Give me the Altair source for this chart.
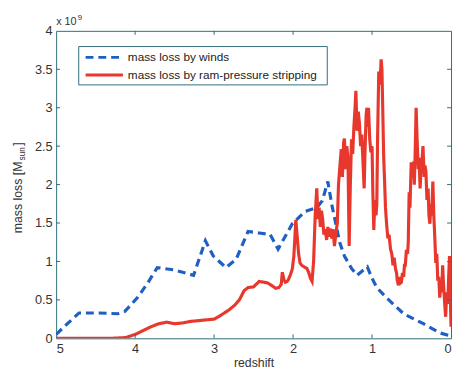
import altair as alt
import pandas as pd

# ---- data (mass loss in units of 1e9 M_sun) ----
series_names = ["mass loss by winds", "mass loss by ram-pressure stripping"]

wind_z = [5.0, 4.9, 4.71, 4.46, 4.22, 4.13, 3.97, 3.84, 3.72, 3.51, 3.26, 3.11, 3.01,
          2.85, 2.72, 2.57, 2.43, 2.29, 2.19, 2.01, 1.85, 1.70, 1.63, 1.56, 1.51, 1.41,
          1.35, 1.26, 1.19, 1.06, 1.0, 0.94, 0.82, 0.60, 0.35, 0.14, 0.0]
wind_v = [0.05, 0.15, 0.33, 0.33, 0.32, 0.35, 0.53, 0.72, 0.92, 0.89, 0.82, 1.27, 1.07,
          0.92, 1.03, 1.39, 1.37, 1.35, 1.16, 1.49, 1.65, 1.70, 1.79, 2.04, 1.74, 1.25,
          1.07, 0.91, 0.82, 0.93, 0.78, 0.66, 0.53, 0.32, 0.19, 0.07, 0.03]

ram_z = [5.0, 4.6, 4.3, 4.12, 4.0, 3.9, 3.8, 3.7, 3.6, 3.5, 3.4, 3.3, 3.2, 3.1, 3.0,
         2.93, 2.87, 2.81, 2.74, 2.68, 2.62, 2.57, 2.5, 2.43, 2.37, 2.32, 2.26, 2.22,
         2.18, 2.15, 2.136, 2.115, 2.098, 2.075, 2.061, 2.045, 2.036, 2.01, 1.99, 1.965,
         1.95, 1.93, 1.912, 1.89, 1.86, 1.825, 1.80, 1.78, 1.76, 1.74, 1.72, 1.70,
         1.685, 1.67, 1.655, 1.64, 1.625, 1.61, 1.595, 1.575, 1.56, 1.545, 1.53, 1.51,
         1.495, 1.476, 1.46, 1.44, 1.425, 1.41, 1.39, 1.375, 1.36, 1.35, 1.335, 1.32,
         1.305, 1.29, 1.275, 1.26, 1.245, 1.23, 1.215, 1.205, 1.19, 1.175, 1.16, 1.145,
         1.13, 1.115, 1.10, 1.09, 1.075, 1.065, 1.055, 1.045, 1.03, 1.015, 1.0, 0.99,
         0.978, 0.965, 0.95, 0.94, 0.93, 0.915, 0.90, 0.885, 0.875, 0.865, 0.853, 0.84,
         0.83, 0.816, 0.80, 0.785, 0.766, 0.75, 0.735, 0.72, 0.704, 0.69, 0.68, 0.666,
         0.65, 0.64, 0.629, 0.615, 0.60, 0.59, 0.579, 0.565, 0.55, 0.542, 0.53, 0.52,
         0.504, 0.49, 0.475, 0.465, 0.455, 0.442, 0.43, 0.415, 0.405, 0.392, 0.38, 0.368,
         0.355, 0.34, 0.33, 0.318, 0.305, 0.29, 0.28, 0.268, 0.255, 0.245, 0.23, 0.218,
         0.205, 0.193, 0.18, 0.168, 0.155, 0.143, 0.13, 0.118, 0.106, 0.095, 0.08, 0.068,
         0.055, 0.04, 0.03, 0.019, 0.01, 0.0]
ram_v = [0.0, 0.0, 0.0, 0.01, 0.05, 0.1, 0.15, 0.19, 0.21, 0.19, 0.2, 0.22, 0.23, 0.24, 0.25,
         0.29, 0.33, 0.37, 0.43, 0.5, 0.62, 0.66, 0.67, 0.74, 0.73, 0.72, 0.68, 0.65,
         0.66, 0.70, 0.86, 0.76, 0.73, 0.74, 0.76, 0.80, 0.82, 0.90, 1.07, 1.54,
         1.35, 1.10, 0.98, 0.95, 0.93, 0.91, 0.85, 0.78, 0.74, 1.0, 1.6, 1.95,
         1.55, 1.70, 1.45, 1.66, 1.55, 1.35, 1.42, 1.28, 1.45, 1.32, 1.43, 1.30,
         1.42, 1.20, 1.35, 1.50, 2.0, 2.2, 2.46, 2.1, 2.55, 2.6, 2.2, 2.5,
         2.35, 1.2, 2.0, 2.59, 2.4, 2.75, 3.0, 3.22, 2.7, 2.95, 2.8, 2.5,
         2.65, 2.3, 1.95, 2.4, 2.9, 3.0, 2.75, 3.0, 2.6, 2.42, 2.5, 1.9,
         1.41, 1.8, 1.6, 1.74, 2.6, 3.47, 3.3, 3.63, 3.5, 3.0, 2.37, 2.0,
         1.7, 1.49, 1.3, 1.35, 1.16, 1.1, 0.95, 1.05, 0.91, 0.85, 0.75, 0.69,
         0.8, 0.72, 0.73, 0.85, 0.8, 0.95, 0.95, 1.15, 1.1, 1.24, 1.9, 1.7,
         2.29, 2.1, 2.3, 2.0, 2.37, 3.0, 2.6, 2.2, 2.35, 1.95, 2.2, 2.3,
         2.5, 2.1, 2.25, 2.17, 1.8, 1.95, 1.6, 1.49, 1.75, 1.6, 2.04, 1.6,
         1.3, 0.98, 1.1, 0.75, 0.8, 0.53, 0.7, 0.6, 0.95, 0.7, 0.45, 0.28,
         0.6, 0.45, 0.8, 1.07, 0.6, 0.15]

x_ticks = [5, 4, 3, 2, 1, 0]
x_inner_ticks = [4, 3, 2, 1]
y_ticks = [0, 0.5, 1, 1.5, 2, 2.5, 3, 3.5, 4]
y_inner_ticks = [0.5, 1, 1.5, 2, 2.5, 3, 3.5]

rows = []
for i, (z, v) in enumerate(zip(wind_z, wind_v)):
    rows.append({"z": z, "v": v, "s": series_names[0], "i": i})
for i, (z, v) in enumerate(zip(ram_z, ram_v)):
    rows.append({"z": z, "v": v, "s": series_names[1], "i": i})
df = pd.DataFrame(rows)

W, H = 402, 313
AX = "#2f6d7a"
TXT = "#333333"
BLUE = "#1f5fc4"
RED = "#e8372d"
FONT = "Liberation Sans"

xs = alt.Scale(domain=[0, 5], reverse=True, nice=False, zero=False)
ys = alt.Scale(domain=[0, 4], nice=False)

xaxis = alt.Axis(values=x_ticks, ticks=False, domain=False, grid=False, labelPadding=4,
                 title="redshift", titleFontWeight="normal", titleFontSize=12.5,
                 titleFont=FONT, titleColor=TXT, titlePadding=2, labelFontSize=13,
                 labelFont=FONT, labelColor=TXT, format="d", labelOverlap=False)
yaxis = alt.Axis(values=y_ticks, ticks=False, domain=False, grid=False, labelPadding=4,
                 title=None, labelFontSize=13, labelFont=FONT, labelColor=TXT,
                 format=".2~f", labelOverlap=False)

lines = alt.Chart(df).mark_line(strokeWidth=3.2, strokeCap="butt", clip=True).encode(
    x=alt.X("z:Q", scale=xs, axis=xaxis),
    y=alt.Y("v:Q", scale=ys, axis=yaxis),
    color=alt.Color("s:N", scale=alt.Scale(domain=series_names, range=[BLUE, RED]), legend=None),
    strokeDash=alt.StrokeDash("s:N", scale=alt.Scale(domain=series_names, range=[[8, 5], [1, 0]]),
                              legend=None),
    order=alt.Order("i:Q"),
)

xt = pd.DataFrame({"z": x_inner_ticks})
yt = pd.DataFrame({"v": y_inner_ticks})

tick_bottom = alt.Chart(xt).mark_rule(color=AX, strokeWidth=1).encode(
    x=alt.X("z:Q", scale=xs, axis=xaxis), y=alt.value(H), y2=alt.value(H - 4))
tick_top = alt.Chart(xt).mark_rule(color=AX, strokeWidth=1).encode(
    x=alt.X("z:Q", scale=xs, axis=xaxis), y=alt.value(0), y2=alt.value(4))
tick_left = alt.Chart(yt).mark_rule(color=AX, strokeWidth=1).encode(
    y=alt.Y("v:Q", scale=ys, axis=yaxis), x=alt.value(0), x2=alt.value(4))
tick_right = alt.Chart(yt).mark_rule(color=AX, strokeWidth=1).encode(
    y=alt.Y("v:Q", scale=ys, axis=yaxis), x=alt.value(W - 4), x2=alt.value(W))


def label(text, x, y, size, angle=0, align="left", color=TXT):
    return alt.Chart(pd.DataFrame({"t": [text]})).mark_text(
        font=FONT, fontSize=size, color=color, angle=angle, align=align,
        baseline="alphabetic").encode(text="t:N", x=alt.value(x), y=alt.value(y))


exp_a = label("x 10", 0, -6, 11)
exp_b = label("9", 22, -11, 8)
ytitle_a = label("mass loss [M", -35, 206, 12.5, angle=270)
ytitle_b = label("sun", -32, 132, 8.5, angle=270)
ytitle_c = label("]", -35, 117, 12.5, angle=270)

# legend (drawn as marks)
one = pd.DataFrame({"k": [0]})
leg_box = alt.Chart(one).mark_rect(fill="white", stroke=AX, strokeWidth=1).encode(
    x=alt.value(23), x2=alt.value(276), y=alt.value(16), y2=alt.value(55))
leg_wind = alt.Chart(one).mark_rule(color=BLUE, strokeWidth=3, strokeDash=[8, 5]).encode(
    x=alt.value(30), x2=alt.value(68), y=alt.value(27))
leg_ram = alt.Chart(one).mark_rule(color=RED, strokeWidth=3).encode(
    x=alt.value(30), x2=alt.value(68), y=alt.value(45))
leg_t1 = label(series_names[0], 73, 31, 12, color="#222222")
leg_t2 = label(series_names[1], 73, 49, 12, color="#222222")

chart = alt.layer(
    lines, tick_bottom, tick_top, tick_left, tick_right,
    exp_a, exp_b, ytitle_a, ytitle_b, ytitle_c,
    leg_box, leg_wind, leg_ram, leg_t1, leg_t2
).properties(
    width=W, height=H,
    autosize=alt.AutoSizeParams(type="none"),
    padding={"left": 49, "top": 20, "right": 2, "bottom": 30},
    background="white",
).configure_view(stroke=AX, strokeWidth=1)

chart.save("out.html", embed_options={"renderer": "svg", "actions": False})
